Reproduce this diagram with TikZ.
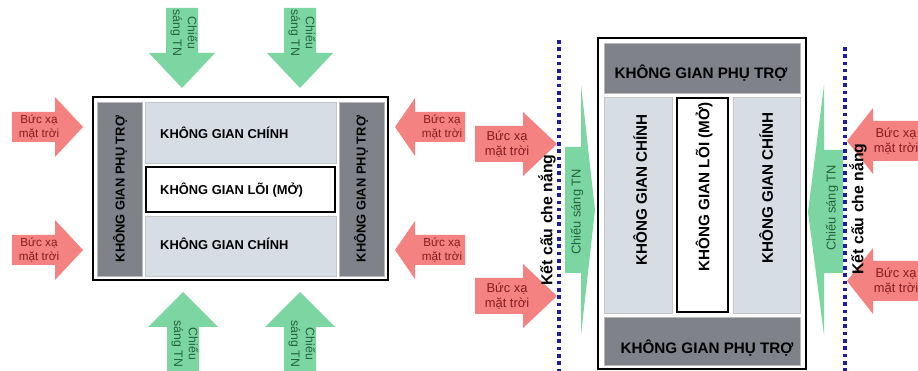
\documentclass[tikz,border=0pt]{standalone}
\usepackage{fontspec}
\setmainfont{Liberation Sans}
\definecolor{sunred}{RGB}{243,130,128}
\definecolor{sunink}{RGB}{135,28,32}
\definecolor{litgreen}{RGB}{124,214,162}
\definecolor{litink}{RGB}{35,100,62}
\definecolor{auxgray}{RGB}{128,130,138}
\definecolor{maingray}{RGB}{214,221,229}
\definecolor{shadeblue}{RGB}{28,28,170}

\begin{document}
\begin{tikzpicture}[x=0.03cm,y=-0.03cm,
  sun/.style={fill=sunred},
  lit/.style={fill=litgreen},
  suntxt/.style={text=sunink,align=center,inner sep=0pt,font=\fontsize{10}{11.5}\selectfont},
  littxt/.style={text=litink,align=center,inner sep=0pt,font=\fontsize{10.5}{12.5}\selectfont},
  frame/.style={fill=white,draw=black,line width=1.6pt},
  aux/.style={fill=auxgray,draw=gray!55,line width=0.4pt},
  zone/.style={fill=maingray,draw=gray!45,line width=0.4pt},
  core/.style={fill=white,draw=black,line width=1.8pt},
  lbl/.style={inner sep=0pt,font=\bfseries\fontsize{11}{13}\selectfont},
  lblbig/.style={inner sep=0pt,font=\bfseries\fontsize{13}{15}\selectfont},
  screendot/.style={fill=shadeblue}]
\useasboundingbox (0,0) rectangle (918,371);
% ================ left: plan with open core ================
% daylight from top and bottom
\foreach \c/\n in {182/a,300/b}{
  \fill[lit] (\c-16,8) -- (\c+16,8) -- (\c+16,53) -- (\c+33,53) -- (\c,88)
    -- (\c-33,53) -- (\c-16,53) -- cycle;
  \node[littxt,rotate=-90] (top\n) at (\c+2,33) {Chiếu\\sáng TN};
}
\foreach \c/\n in {183/a,300/b}{
  \fill[lit] (\c-16,375) -- (\c+16,375) -- (\c+16,327) -- (\c+35,327) -- (\c,292)
    -- (\c-35,327) -- (\c-16,327) -- cycle;
  \node[littxt,rotate=-90] (bot\n) at (\c+2,344) {Chiếu\\sáng TN};
}
% solar radiation from both sides
\foreach \y/\n in {127/a,250/b}{
  \fill[sun] (12,\y-15) -- (55,\y-15) -- (55,\y-30) -- (83,\y) -- (55,\y+30)
    -- (55,\y+15) -- (12,\y+15) -- cycle;
  \node[suntxt] (west\n) at (39,\y) {Bức xạ\\mặt trời};
  \fill[sun] (465,\y-15) -- (415,\y-15) -- (415,\y-29) -- (395,\y) -- (415,\y+29)
    -- (415,\y+15) -- (465,\y+15) -- cycle;
  \node[suntxt] (east\n) at (442,\y) {Bức xạ\\mặt trời};
}
% building
\draw[frame] (93,97) rectangle (388,280);
\draw[aux] (97,102) rectangle (142,276);
\draw[aux] (339,102) rectangle (384,276);
\draw[zone] (145,102) rectangle (336,163);
\draw[core] (146,167) rectangle (335,212);
\draw[zone] (145,216) rectangle (336,276);
\node[lbl,rotate=90] (auxW) at (120,189) {KHÔNG GIAN PHỤ TRỢ};
\node[lbl,rotate=90] (auxE) at (361,189) {KHÔNG GIAN PHỤ TRỢ};
\node[lbl,anchor=west] (mainN) at (160,133) {KHÔNG GIAN CHÍNH};
\node[lbl,anchor=west] (coreL) at (160,190) {KHÔNG GIAN LÕI (MỞ)};
\node[lbl,anchor=west] (mainS) at (160,244) {KHÔNG GIAN CHÍNH};
% ================ right: plan with shading structure ================
% sun on the outer side of the screens
\foreach \y/\n in {144/a,296/b}{
  \fill[sun] (475,\y-18) -- (523,\y-18) -- (523,\y-32) -- (557,\y) -- (523,\y+32)
    -- (523,\y+18) -- (475,\y+18) -- cycle;
  \node[suntxt,font=\fontsize{11}{12.5}\selectfont] (rwest\n) at (507,\y) {Bức xạ\\mặt trời};
}
\foreach \y/\n in {141/a,281/b}{
  \fill[sun] (925,\y-20) -- (873,\y-20) -- (873,\y-33) -- (847,\y) -- (873,\y+33)
    -- (873,\y+20) -- (925,\y+20) -- cycle;
  \node[suntxt,font=\fontsize{11}{12.5}\selectfont] (reast\n) at (896,\y) {Bức xạ\\mặt trời};
}
% daylight passing the screens
\fill[lit] (565,147) -- (581,147) -- (581,85) -- (595,210) -- (581,335)
  -- (581,273) -- (565,273) -- cycle;
\fill[lit] (843,150) -- (824,150) -- (824,85) -- (808,212) -- (824,335)
  -- (824,273) -- (843,273) -- cycle;
\node[littxt,rotate=90,font=\fontsize{11}{13}\selectfont] (dayW) at (577,212) {Chiếu sáng TN};
\node[littxt,rotate=90,font=\fontsize{11}{13}\selectfont] (dayE) at (832,208) {Chiếu sáng TN};
% shading screens (square dots)
\foreach \t in {40,47.3,...,371}{\fill[screendot] (557,\t) rectangle +(4,3.6);}
\foreach \t in {47,54.3,...,371}{\fill[screendot] (843,\t) rectangle +(4,3.6);}
\node[lblbig,rotate=90,font=\bfseries\fontsize{13.5}{15}\selectfont] (screenW) at (547,220) {Kết cấu che nắng};
\node[lblbig,rotate=90,font=\bfseries\fontsize{13.5}{15}\selectfont] (screenE) at (858,209) {Kết cấu che nắng};
% building
\draw[frame] (598,38) rectangle (806,369);
\draw[aux] (604,43) rectangle (800,93);
\draw[zone] (604,97) rectangle (672,313);
\draw[core] (677,98) rectangle (728,312);
\draw[zone] (733,97) rectangle (800,313);
\draw[aux] (604,317) rectangle (800,365);
\node[lblbig] (auxN) at (701,73) {KHÔNG GIAN PHỤ TRỢ};
\node[lblbig] (auxS) at (707,348) {KHÔNG GIAN PHỤ TRỢ};
\node[lblbig,rotate=90] (mainW) at (640,190) {KHÔNG GIAN CHÍNH};
\node[lblbig,rotate=90] (coreV) at (704,187) {KHÔNG GIAN LÕI (MỞ)};
\node[lblbig,rotate=90] (mainE) at (766,188) {KHÔNG GIAN CHÍNH};
\end{tikzpicture}
\end{document}
